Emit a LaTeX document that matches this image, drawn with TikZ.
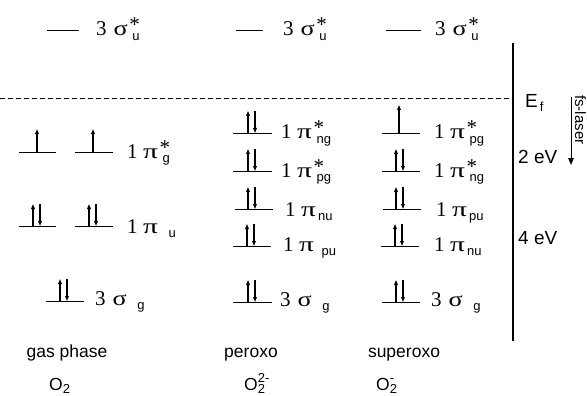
\documentclass[tikz,border=0pt]{standalone}
\usepackage{graphicx}
\usepackage{fontspec}
\setmainfont{Liberation Serif}
\setsansfont{Liberation Sans}
\usetikzlibrary{arrows.meta}
\newcommand\serfs{\fontsize{21}{21}\selectfont}
\newcommand\sansfs{\sffamily\fontsize{19}{19}\selectfont}
\newcommand\botfs{\sffamily\fontsize{17.5}{17.5}\selectfont}
\newcommand\subfs{\sffamily\fontsize{13}{13}\selectfont}
\newcommand\sig{\scalebox{1.25}[1]{σ}}
\newcommand\ppi{\scalebox{1.4}[1]{π}}
% #1 digit, #2 gap, #3 greek, #4 star, #5 space before subscript, #6 subscript
\newcommand\mo[6]{{\serfs #1}\hspace{#2}{\serfs #3}\hspace{1.5pt}\makebox[0pt][l]{\raisebox{4pt}{\serfs #4}}\hspace{#5}\raisebox{-4.5pt}{\subfs #6}}
\newcommand\mol[1]{{\botfs O}\makebox[0pt][l]{\raisebox{8pt}{\subfs #1}}\raisebox{-3.5pt}{\subfs 2}}
\begin{document}
\begin{tikzpicture}[x=1pt,y=-1pt,
  level/.style={line width=0.8pt},
  spin/.style={line width=1.1pt,-{Triangle[length=5pt,width=3.6pt]}},
  lab/.style={anchor=base west,inner sep=0pt},
  slab/.style={anchor=base,inner sep=0pt,font=\botfs}]
\useasboundingbox (0,0) rectangle (587,396);
\newcommand\lv[3]{\draw[level] (#1,#3) -- (#2,#3);}
\newcommand\up[3]{\draw[spin] (#1,#2) -- (#1,#2-#3);}
\newcommand\pair[3]{\draw[spin] (#1-4,#2) -- (#1-4,#2-#3); \draw[spin] (#1+3,#2-#3) -- (#1+3,#2);}
% top sigma* levels
\lv{47}{79}{30} \lv{236}{263}{30} \lv{386}{421}{30}
\node[lab] (su1) at (96,36) {\mo{3}{7pt}{\sig}{*}{3pt}{u}};
\node[lab] (su2) at (283,36) {\mo{3}{7pt}{\sig}{*}{3pt}{u}};
\node[lab] (su3) at (435,36) {\mo{3}{7pt}{\sig}{*}{3pt}{u}};
% Fermi level
\draw[dashed,dash pattern=on 5pt off 3pt,line width=0.7pt] (0,98) -- (509,98);
% axis
\draw[line width=1.6pt] (513,43) -- (513,341);
\node[lab,font=\sansfs] (ef) at (525,107) {E\raisebox{-5pt}{\subfs\hspace{2pt}f}};
\node[lab,font=\sansfs] (ev2) at (518,164) {2 eV};
\node[lab,font=\sansfs] (ev4) at (518,244) {4 eV};
\coordinate (la) at (571,97);
\coordinate (lb) at (571,165);
\draw[line width=1pt,-{Triangle[length=7pt,width=5.5pt]}] (la) -- (lb);
\node[rotate=-90,anchor=base west,inner sep=0pt,font=\sffamily\fontsize{15}{15}\selectfont] (fs) at (575,95) {fs-laser};
% gas phase
\lv{19}{56}{152} \lv{75}{113}{152}
\up{37}{152}{23} \up{93}{152}{23}
\node[lab] (g1) at (127,158) {\mo{1}{5.5pt}{\ppi}{*}{3pt}{g}};
\lv{19}{56}{226} \lv{75}{113}{226}
\pair{37}{226}{22} \pair{93}{226}{22}
\node[lab] (g2) at (127,233) {\mo{1}{5.5pt}{\ppi}{}{9pt}{u}};
\lv{46}{84}{301}
\pair{64}{301}{22}
\node[lab] (g3) at (95,305) {\mo{3}{7pt}{\sig}{}{9pt}{g}};
% peroxo
\lv{233}{272}{133} \pair{252}{133}{22}
\node[lab] (p1) at (281,139) {\mo{1}{5.5pt}{\ppi}{*}{3pt}{ng}};
\lv{233}{272}{171} \pair{252}{171}{22}
\node[lab] (p2) at (281,177) {\mo{1}{5.5pt}{\ppi}{*}{3pt}{pg}};
\lv{235}{273}{209} \pair{252}{209}{22}
\node[lab] (p3) at (285,216) {\mo{1}{5.5pt}{\ppi}{}{0.5pt}{nu}};
\lv{233}{271}{246} \pair{251}{246}{22}
\node[lab] (p4) at (283,251) {\mo{1}{5.5pt}{\ppi}{}{6pt}{pu}};
\lv{233}{272}{302} \pair{252}{302}{22}
\node[lab] (p5) at (280,306) {\mo{3}{7pt}{\sig}{}{9pt}{g}};
% superoxo
\lv{382}{420}{133} \up{399}{133}{28}
\node[lab] (s1) at (434,139) {\mo{1}{5.5pt}{\ppi}{*}{3pt}{pg}};
\lv{382}{420}{171} \pair{400}{171}{22}
\node[lab] (s2) at (434,177) {\mo{1}{5.5pt}{\ppi}{*}{3pt}{ng}};
\lv{383}{421}{209} \pair{400}{209}{22}
\node[lab] (s3) at (436,216) {\mo{1}{5.5pt}{\ppi}{}{0.5pt}{pu}};
\lv{381}{419}{246} \pair{399}{246}{22}
\node[lab] (s4) at (434,251) {\mo{1}{5.5pt}{\ppi}{}{0.5pt}{nu}};
\lv{382}{420}{302} \pair{400}{302}{22}
\node[lab] (s5) at (431,306) {\mo{3}{7pt}{\sig}{}{9pt}{g}};
% bottom labels
\node[slab] (t1) at (67,357) {gas phase};
\node[slab] (t2) at (251,357) {peroxo};
\node[slab] (t3) at (404,357) {superoxo};
\node[lab] (m1) at (49,390) {\mol{}};
\node[lab] (m2) at (244,390) {\mol{2-}};
\node[lab] (m3) at (376,390) {\mol{-}};
\end{tikzpicture}
\end{document}
